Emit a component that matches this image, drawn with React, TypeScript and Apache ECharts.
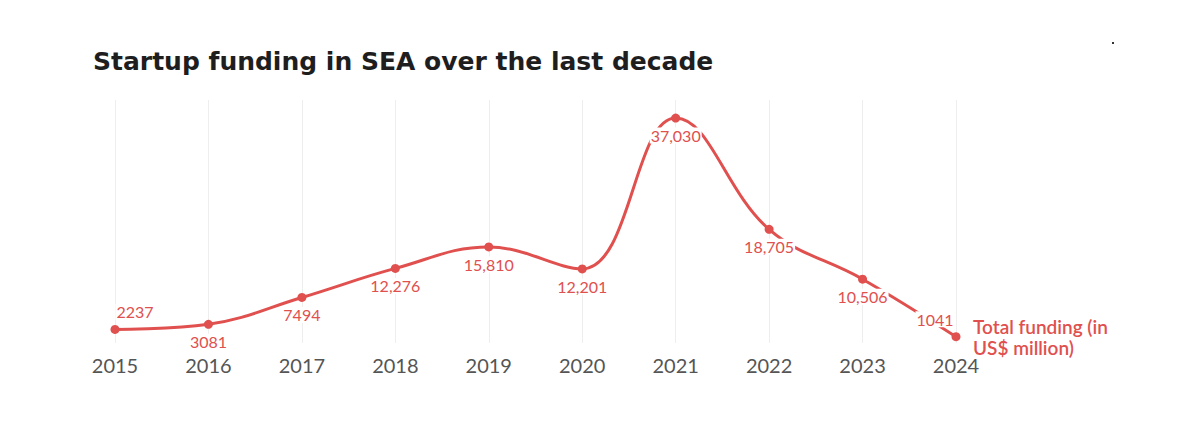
import React, { useEffect, useRef } from "react";
import * as echarts from "echarts";

const years = ["2015", "2016", "2017", "2018", "2019", "2020", "2021", "2022", "2023", "2024"];
const funding = [2237, 3081, 7494, 12276, 15810, 12201, 37030, 18705, 10506, 1041];
const valueLabels = ["2237", "3081", "7494", "12,276", "15,810", "12,201", "37,030", "18,705", "10,506", "1041"];
const labelPositions = ["top", "bottom", "bottom", "bottom", "bottom", "bottom", "bottom", "bottom", "bottom", "top"];
const seriesName = "Total funding (in\nUS$ million)";
const titleText = "Startup funding in SEA over the last decade";

const RED = "#e0504e";
const labelOffsets: Record<number, number[]> = { 0: [20, 0], 9: [-21, 0] };

export default function App() {
  const ref = useRef<HTMLDivElement>(null);
  useEffect(() => {
    if (!ref.current) return;
    const chart = echarts.init(ref.current, null, { renderer: "svg" });
    chart.setOption({
      animation: false,
      backgroundColor: "#ffffff",
      title: {
        text: titleText,
        left: 88,
        top: 44,
        textStyle: { fontFamily: "DejaVu Sans", fontWeight: 700, fontSize: 25, color: "#1e1e1e" },
      },
      grid: { left: 115, right: 226, top: 100, bottom: 80, containLabel: false },
      xAxis: {
        type: "category",
        data: years,
        boundaryGap: false,
        axisLine: { show: false },
        axisTick: { show: false },
        axisLabel: { color: "#555555", fontFamily: "Lato", fontSize: 20, margin: 12 },
        splitLine: { show: true, lineStyle: { color: "#eeeeee", width: 1 } },
      },
      yAxis: {
        type: "value",
        min: 0,
        max: 40000,
        show: false,
        splitLine: { show: false },
      },
      graphic: [
        { type: "rect", shape: { x: 1112, y: 42, width: 2, height: 2 }, style: { fill: "#333" } },
      ],
      series: [
        {
          name: seriesName,
          type: "line",
          smooth: 0.4,
          data: funding.map((v, i) => ({
            value: v,
            label: {
              position: labelPositions[i],
              formatter: valueLabels[i],
              offset: labelOffsets[i] || [0, 0],
            },
          })),
          symbol: "circle",
          symbolSize: 9,
          lineStyle: { color: RED, width: 3 },
          itemStyle: { color: RED },
          label: {
            show: true,
            color: RED,
            fontFamily: "Lato",
            fontSize: 16,
            backgroundColor: "#ffffff",
            padding: [0, 1],
            distance: 5,
          },
          endLabel: {
            show: true,
            formatter: seriesName,
            color: RED,
            fontFamily: "Lato",
            fontWeight: 600,
            fontSize: 19,
            lineHeight: 21,
            distance: 17,
          },
        },
      ],
    });
    return () => chart.dispose();
  }, []);
  return <div ref={ref} style={{ width: 1182, height: 423, position: "absolute", left: 0, top: 0 }} />;
}
